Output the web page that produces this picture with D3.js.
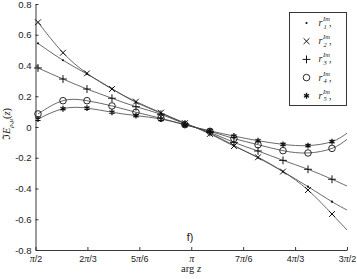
<!DOCTYPE html>
<html>
<head>
<meta charset="utf-8">
<script src="https://cdn.jsdelivr.net/npm/d3@7"></script>
<style>
  body { margin: 0; background: #fff; }
  svg { display: block; }
  .tick text { font-family: "Liberation Sans", Arial, sans-serif; font-size: 9.5px; fill: #222; }
</style>
</head>
<body>
<div class="canvas"></div>
<script>
// arg z of the sampled points (radians)
var argz = [1.596, 1.848, 2.090, 2.342, 2.584, 2.836, 3.078, 3.330, 3.572, 3.815, 4.067, 4.319, 4.561];
var argEnd = 3 * Math.PI / 2;

// Im E values, one list per series
var r1 = [0.544, 0.434, 0.345, 0.249, 0.160, 0.090, 0.024, -0.040, -0.120, -0.200, -0.290, -0.388, -0.486];
var r2 = [0.681, 0.483, 0.349, 0.247, 0.165, 0.093, 0.025, -0.045, -0.124, -0.197, -0.290, -0.410, -0.566];
var r3 = [0.384, 0.312, 0.247, 0.187, 0.132, 0.083, 0.020, -0.035, -0.100, -0.156, -0.217, -0.275, -0.340];
var r4 = [0.085, 0.171, 0.171, 0.137, 0.096, 0.057, 0.015, -0.028, -0.075, -0.115, -0.154, -0.169, -0.139];
var r5 = [0.052, 0.119, 0.123, 0.096, 0.074, 0.052, 0.014, -0.025, -0.059, -0.089, -0.113, -0.121, -0.095];
// value of each curve at 3pi/2 (curves run past the last marker)
var rEnd = [-0.540, -0.670, -0.384, -0.080, -0.040];

var seriesNames = ["1", "2", "3", "4", "5"];
var markerKinds = ["dot", "times", "plus", "circle", "asterisk"];

var xTicks = [3, 4, 5, 6, 7, 8, 9].map(function(k){ return k * Math.PI / 6; });
var xTickLabels = ["π/2", "2π/3", "5π/6", "π", "7π/6", "4π/3", "3π/2"];
var yTicks = [0.8, 0.6, 0.4, 0.2, 0, -0.2, -0.4, -0.6, -0.8];
var yTickLabels = ["0.8", "0.6", "0.4", "0.2", "0", "-0.2", "-0.4", "-0.6", "-0.8"];

var width = 357, height = 279;
var svg = d3.select(".canvas").append("svg").attr("width", width).attr("height", height);

var x = d3.scaleLinear().domain([Math.PI / 2, 3 * Math.PI / 2]).range([35.5, 347]);
var y = d3.scaleLinear().domain([-0.8, 0.8]).range([250, 4]);

// axes
var xAxis = d3.axisBottom(x).tickValues(xTicks).tickSizeInner(-3).tickSizeOuter(0).tickPadding(6)
  .tickFormat(function(d, i){ return xTickLabels[i]; });
var gx = svg.append("g").attr("transform", "translate(0,250)").call(xAxis);
gx.selectAll("text").each(function(d, i){
  var t = d3.select(this), parts = xTickLabels[i].split("π");
  t.text(null).style("font-size", "9px");
  t.append("tspan").text(parts[0]);
  t.append("tspan").attr("font-family", "'Liberation Serif', serif").attr("font-style", "italic").attr("font-size", "10px").text("π");
  t.append("tspan").text(parts[1]);
});

var yAxis = d3.axisLeft(y).tickValues(yTicks).tickSizeInner(-3).tickSizeOuter(0).tickPadding(4)
  .tickFormat(function(d, i){ return yTickLabels[i]; });
svg.append("g").attr("transform", "translate(35.5,0)").call(yAxis);

svg.selectAll(".domain, .tick line").attr("stroke", "#222").attr("stroke-width", 0.9);

// axis titles
var xt = svg.append("text").attr("x", 191).attr("y", 272).attr("text-anchor", "middle")
  .attr("font-family", "'Liberation Serif', serif").attr("font-size", "10.5px").attr("fill", "#222");
xt.append("tspan").text("arg ");
xt.append("tspan").attr("font-style", "italic").text("z");

var yt = svg.append("text").attr("transform", "translate(10,124) rotate(-90)").attr("text-anchor", "middle")
  .attr("font-family", "'Liberation Serif', serif").attr("font-size", "10.5px").attr("fill", "#222");
yt.append("tspan").text("ℑ");
yt.append("tspan").attr("font-style", "italic").text("E");
yt.append("tspan").attr("font-style", "italic").attr("font-size", "7px").attr("dy", 2.5).text("ρ,μ");
yt.append("tspan").attr("dy", -2.5).text("(");
yt.append("tspan").attr("font-style", "italic").text("z");
yt.append("tspan").text(")");

svg.append("text").attr("x", 190).attr("y", 241).attr("text-anchor", "middle")
  .attr("font-family", "'Liberation Sans', Arial, sans-serif").attr("font-size", "10.5px").attr("fill", "#111")
  .text("f)");

// series
var allSeries = [r1, r2, r3, r4, r5];
var line = d3.line().x(function(d){ return x(d[0]); }).y(function(d){ return y(d[1]); }).curve(d3.curveNatural);

function drawMarker(g, kind) {
  if (kind === "dot") {
    g.append("circle").attr("r", 1.1).attr("fill", "#111");
  } else if (kind === "circle") {
    g.append("path").attr("d", d3.symbol(d3.symbolCircle, 34)()).attr("fill", "none").attr("stroke", "#111").attr("stroke-width", 0.9);
  } else if (kind === "times") {
    g.append("path").attr("d", d3.symbol(d3.symbolTimes, 24)()).attr("fill", "none").attr("stroke", "#111").attr("stroke-width", 1);
  } else if (kind === "plus") {
    g.append("path").attr("d", d3.symbol(d3.symbolPlus, 22)()).attr("fill", "none").attr("stroke", "#111").attr("stroke-width", 1);
  } else {
    g.append("path").attr("d", d3.symbol(d3.symbolAsterisk, 24)()).attr("fill", "none").attr("stroke", "#111").attr("stroke-width", 1.3);
  }
}

allSeries.forEach(function(vals, s){
  var pts = argz.map(function(a, i){ return [a, vals[i]]; });
  pts.push([argEnd, rEnd[s]]);
  svg.append("path").datum(pts).attr("d", line)
    .attr("fill", "none").attr("stroke", "#444").attr("stroke-width", 0.8);
});
allSeries.forEach(function(vals, s){
  argz.forEach(function(a, i){
    var g = svg.append("g").attr("transform", "translate(" + x(a) + "," + y(vals[i]) + ")");
    drawMarker(g, markerKinds[s]);
  });
});

// legend
var leg = svg.append("g");
leg.append("rect").attr("x", 289.5).attr("y", 12.5).attr("width", 57).attr("height", 93)
  .attr("fill", "#fff").attr("stroke", "#222").attr("stroke-width", 0.9);
seriesNames.forEach(function(n, i){
  var cy = 23 + i * 18.2;
  var g = leg.append("g").attr("transform", "translate(306.5," + cy + ")");
  drawMarker(g, markerKinds[i]);
  var f = "'Liberation Serif', serif";
  leg.append("text").attr("x", 318.5).attr("y", cy + 3).attr("font-family", f).attr("font-style", "italic")
    .attr("font-size", "10px").attr("fill", "#222").text("r");
  leg.append("text").attr("x", 323).attr("y", cy - 2).attr("font-family", f).attr("font-style", "italic")
    .attr("font-size", "6.5px").attr("fill", "#222").text("Im");
  leg.append("text").attr("x", 323.5).attr("y", cy + 5.5).attr("font-family", f).attr("font-style", "italic")
    .attr("font-size", "6.5px").attr("fill", "#222").text(n);
  leg.append("text").attr("x", 329).attr("y", cy + 3).attr("font-family", f)
    .attr("font-size", "10px").attr("fill", "#222").text(",");
});
</script>
</body>
</html>
